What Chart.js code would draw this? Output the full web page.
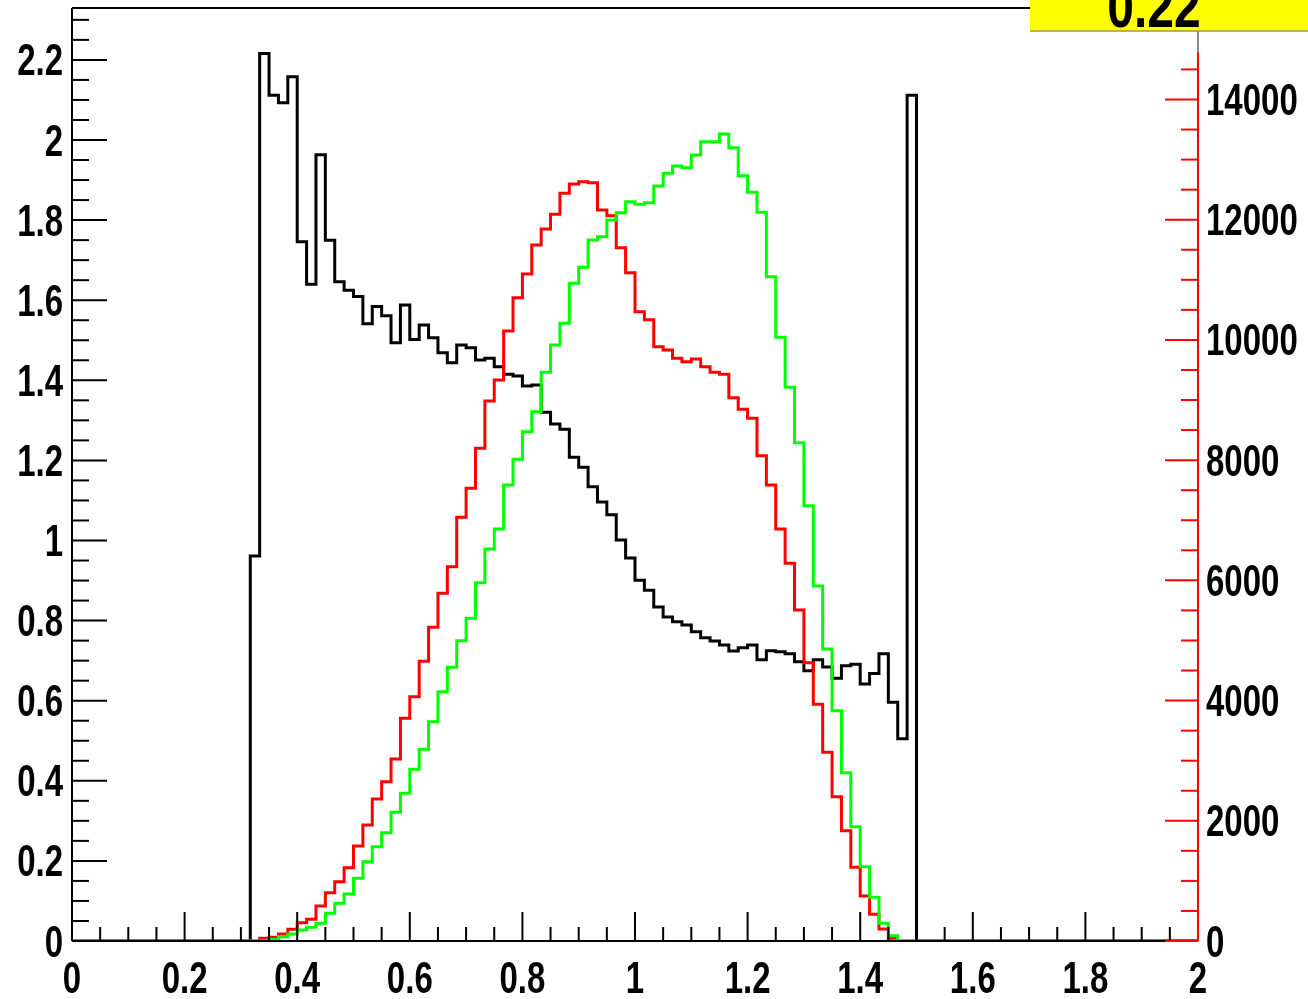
<!DOCTYPE html>
<html>
<head>
<meta charset="utf-8">
<script src="https://cdn.jsdelivr.net/npm/chart.js@4.4.0/dist/chart.umd.min.js"></script>
<style>
  html, body { margin: 0; padding: 0; background: #fff; }
  canvas { display: block; }
</style>
</head>
<body>
<canvas id="histCanvas" width="1308" height="999" style="width:1308px;height:999px"></canvas>
<script>
// binning of the three histograms
const nBins = 120;
const xMin = 0;
const xMax = 2;

// black: ratio, read on the left axis (first filled bin = 19)
const blackFirstBin = 19;
const blackValues = [
  0.961, 2.216, 2.112, 2.093, 2.158, 1.746, 1.640, 1.963, 1.750, 1.646,
  1.625, 1.609, 1.541, 1.584, 1.561, 1.494, 1.588, 1.502, 1.538, 1.506,
  1.469, 1.444, 1.488, 1.481, 1.451, 1.455, 1.434, 1.415, 1.411, 1.386,
  1.388, 1.320, 1.291, 1.278, 1.208, 1.183, 1.134, 1.096, 1.064, 1.001,
  0.956, 0.901, 0.876, 0.834, 0.809, 0.797, 0.789, 0.772, 0.757, 0.749,
  0.739, 0.724, 0.732, 0.739, 0.702, 0.725, 0.722, 0.717, 0.697, 0.675,
  0.702, 0.684, 0.656, 0.687, 0.691, 0.642, 0.668, 0.717, 0.596, 0.505,
  2.112
];

// red: counts, read on the right axis (first filled bin = 20)
const redFirstBin = 20;
const redValues = [
  45, 62, 116, 195, 305, 361, 582, 804, 987, 1220,
  1581, 1930, 2363, 2651, 3028, 3705, 4064, 4655, 5219, 5784,
  6227, 7049, 7531, 8197, 8984, 9333, 10148, 10702, 11096, 11579,
  11845, 12090, 12439, 12594, 12632, 12615, 12161, 12066, 11534, 11118,
  10469, 10337, 9887, 9832, 9694, 9637, 9682, 9554, 9461, 9428,
  9039, 8846, 8696, 8074, 7586, 6854, 6283, 5507, 4630, 3938,
  3139, 2400, 1835, 1226, 749, 444, 200, 45
];

// green: counts, read on the right axis (first filled bin = 21)
const greenFirstBin = 21;
const greenValues = [
  25, 72, 116, 183, 228, 294, 461, 627, 782, 1043,
  1319, 1569, 1802, 2141, 2457, 2856, 3189, 3648, 4147, 4553,
  4996, 5369, 5961, 6521, 6854, 7586, 8014, 8473, 8806, 9461,
  9915, 10276, 10942, 11208, 11662, 11717, 11995, 12116, 12299, 12256,
  12283, 12561, 12772, 12893, 12865, 13076, 13297, 13297, 13425, 13197,
  12732, 12455, 12123, 11051, 10043, 9211, 8290, 7242, 5906, 4858,
  3831, 2800, 1902, 1236, 727, 294, 88, 10
];
const greenEndX = 1.94;

// axes
const xTickValues = [0, 0.2, 0.4, 0.6, 0.8, 1, 1.2, 1.4, 1.6, 1.8, 2];
const xTickLabels = ['0', '0.2', '0.4', '0.6', '0.8', '1', '1.2', '1.4', '1.6', '1.8', '2'];
const leftTickValues = [0, 0.2, 0.4, 0.6, 0.8, 1, 1.2, 1.4, 1.6, 1.8, 2, 2.2];
const leftTickLabels = ['0', '0.2', '0.4', '0.6', '0.8', '1', '1.2', '1.4', '1.6', '1.8', '2', '2.2'];
const rightTickValues = [0, 2000, 4000, 6000, 8000, 10000, 12000, 14000];
const rightTickLabels = ['0', '2000', '4000', '6000', '8000', '10000', '12000', '14000'];
const leftMax = 2.3296;
const rightMax = 15522;
const rightAxisEnd = 14786;
const titleText = '0.22';

const binWidth = (xMax - xMin) / nBins;

// histogram outline: one point per low edge, stepped drawing
function histPoints(firstBin, values, endX) {
  const pts = [{ x: xMin, y: 0 }];
  values.forEach((v, i) => {
    pts.push({ x: xMin + (firstBin + i) * binWidth, y: v });
  });
  pts.push({ x: xMin + (firstBin + values.length) * binWidth, y: 0 });
  pts.push({ x: endX, y: 0 });
  return pts;
}

const labelFont = 'bold 44px "Liberation Sans", Arial, sans-serif';
const squeeze = 0.75;

function drawText(ctx, text, x, y, align, sx) {
  ctx.save();
  ctx.translate(x, y);
  ctx.scale(sx, 1);
  ctx.textAlign = align;
  ctx.textBaseline = 'alphabetic';
  ctx.fillText(text, 0, 0);
  ctx.restore();
}

function seg(ctx, x1, y1, x2, y2) {
  ctx.beginPath();
  ctx.moveTo(x1, y1);
  ctx.lineTo(x2, y2);
  ctx.stroke();
}

// ROOT-like frame, inward ticks, labels and title box
const rootAxes = {
  id: 'rootAxes',
  afterDraw(chart) {
    const { ctx, chartArea } = chart;
    const { left, right, top, bottom } = chartArea;
    const x = chart.scales.x, yL = chart.scales.yL, yR = chart.scales.yR;
    ctx.save();
    ctx.lineCap = 'butt';

    // frame
    ctx.strokeStyle = '#000';
    ctx.lineWidth = 2;
    seg(ctx, left, top, right, top);
    seg(ctx, left, top, left, bottom);
    seg(ctx, left, bottom, right, bottom);
    ctx.strokeStyle = '#666';
    ctx.lineWidth = 1.5;
    seg(ctx, right, top, right, yR.getPixelForValue(rightAxisEnd));

    // x axis ticks
    ctx.strokeStyle = '#000';
    ctx.lineWidth = 2;
    for (let v = xMin; v <= xMax + 1e-9; v += 0.05) {
      const px = x.getPixelForValue(v);
      const major = Math.abs(v / 0.2 - Math.round(v / 0.2)) < 1e-6;
      seg(ctx, px, bottom, px, bottom - (major ? 29 : 14));
    }
    // left axis ticks
    for (let v = 0; v <= leftMax; v += 0.05) {
      const py = yL.getPixelForValue(v);
      const major = Math.abs(v / 0.2 - Math.round(v / 0.2)) < 1e-6;
      seg(ctx, left, py, left + (major ? 35 : 17), py);
    }
    // right axis (red)
    ctx.strokeStyle = '#ff0000';
    seg(ctx, right, yR.getPixelForValue(rightAxisEnd), right, bottom);
    for (let v = 0; v <= rightAxisEnd; v += 500) {
      const py = yR.getPixelForValue(v);
      const major = v % 2000 === 0;
      seg(ctx, right, py, right - (major ? 33 : 17), py);
    }

    // labels
    ctx.fillStyle = '#000';
    ctx.font = labelFont;
    xTickValues.forEach((v, i) => {
      drawText(ctx, xTickLabels[i], x.getPixelForValue(v), 993, 'center', squeeze);
    });
    leftTickValues.forEach((v, i) => {
      drawText(ctx, leftTickLabels[i], 63, yL.getPixelForValue(v) + 15.5, 'right', squeeze);
    });
    rightTickValues.forEach((v, i) => {
      drawText(ctx, rightTickLabels[i], 1206, yR.getPixelForValue(v) + 15.5, 'left', squeeze);
    });

    // title box, top right
    ctx.fillStyle = '#ffff00';
    ctx.fillRect(1030, 0, 278, 31);
    ctx.strokeStyle = '#9a9a50';
    ctx.lineWidth = 1.5;
    seg(ctx, 1030, 31, 1308, 31);
    ctx.fillStyle = '#000';
    ctx.font = 'bold 60px "Liberation Sans", Arial, sans-serif';
    drawText(ctx, titleText, 1154, 27, 'center', 0.8);

    ctx.restore();
  }
};

const lineStyle = {
  stepped: 'before',
  pointRadius: 0,
  borderWidth: 3,
  fill: false,
  tension: 0
};

new Chart(document.getElementById('histCanvas').getContext('2d'), {
  type: 'line',
  data: {
    datasets: [
      Object.assign({ label: 'green', data: histPoints(greenFirstBin, greenValues, greenEndX),
        borderColor: '#00ff00', yAxisID: 'yR' }, lineStyle),
      Object.assign({ label: 'red', data: histPoints(redFirstBin, redValues, xMax),
        borderColor: '#ff0000', yAxisID: 'yR' }, lineStyle),
      Object.assign({ label: 'black', data: histPoints(blackFirstBin, blackValues, xMax),
        borderColor: '#000000', yAxisID: 'yL' }, lineStyle)
    ]
  },
  options: {
    responsive: false,
    animation: false,
    devicePixelRatio: 1,
    layout: { padding: { left: 72, right: 110, top: 8, bottom: 58 } },
    plugins: { legend: { display: false }, tooltip: { enabled: false } },
    scales: {
      x: { type: 'linear', min: xMin, max: xMax, display: false },
      yL: { type: 'linear', position: 'left', min: 0, max: leftMax, display: false },
      yR: { type: 'linear', position: 'right', min: 0, max: rightMax, display: false }
    }
  },
  plugins: [rootAxes]
});
</script>
</body>
</html>
